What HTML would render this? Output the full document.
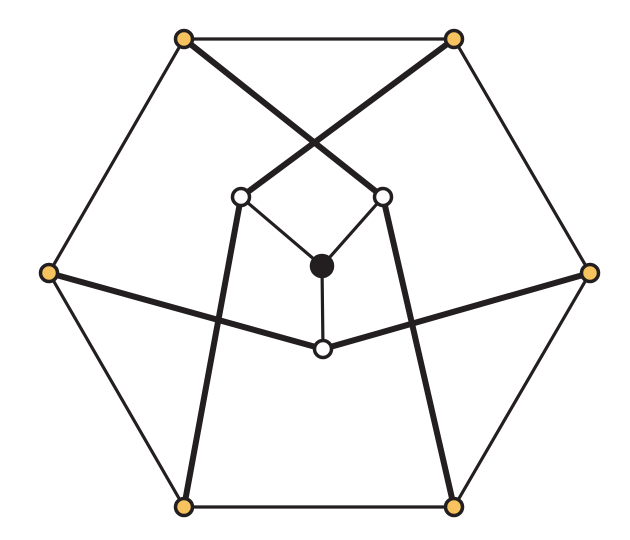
<!DOCTYPE html>
<html>
<head>
<meta charset="utf-8">
<style>
html,body{margin:0;padding:0;background:#fff;}
svg{display:block;}
</style>
</head>
<body>
<svg id="graph" width="630" height="540" viewBox="0 0 630 540" xmlns="http://www.w3.org/2000/svg">
<g id="edges"></g>
<g id="nodes"></g>
</svg>
<script>
const nodeX = [184, 454, 590, 454, 184, 49, 241, 383, 323, 322];
const nodeY = [39, 39, 273, 507, 507, 273, 197, 197, 349, 266];
const nodeKind = ['outer','outer','outer','outer','outer','outer','inner','inner','inner','center'];
const edgeFrom = [0,1,2,3,4,5, 6,7,9, 0,1,5,2,6,7];
const edgeTo   = [1,2,3,4,5,0, 9,9,8, 7,6,8,8,4,3];
const edgeHeavy= [0,0,0,0,0,0, 0,0,0, 1,1,1,1,1,1];

const NS='http://www.w3.org/2000/svg';
const eg=document.getElementById('edges');
for(let i=0;i<edgeFrom.length;i++){
  const l=document.createElementNS(NS,'line');
  l.setAttribute('x1',nodeX[edgeFrom[i]]);
  l.setAttribute('y1',nodeY[edgeFrom[i]]);
  l.setAttribute('x2',nodeX[edgeTo[i]]);
  l.setAttribute('y2',nodeY[edgeTo[i]]);
  l.setAttribute('stroke','#231f20');
  l.setAttribute('stroke-width',edgeHeavy[i]?6:3.2);
  l.setAttribute('stroke-linecap','round');
  
  
  eg.appendChild(l);
}
const ng=document.getElementById('nodes');
for(let i=0;i<nodeX.length;i++){
  const c=document.createElementNS(NS,'circle');
  c.setAttribute('cx',nodeX[i]);
  c.setAttribute('cy',nodeY[i]);
  const k=nodeKind[i];
  c.setAttribute('r',k==='center'?10.5:8.5);
  c.setAttribute('fill',k==='outer'?'#f6c35f':(k==='inner'?'#ffffff':'#231f20'));
  c.setAttribute('stroke','#231f20');
  c.setAttribute('stroke-width',3.5);
  
  
  ng.appendChild(c);
}
</script>
</body>
</html>
